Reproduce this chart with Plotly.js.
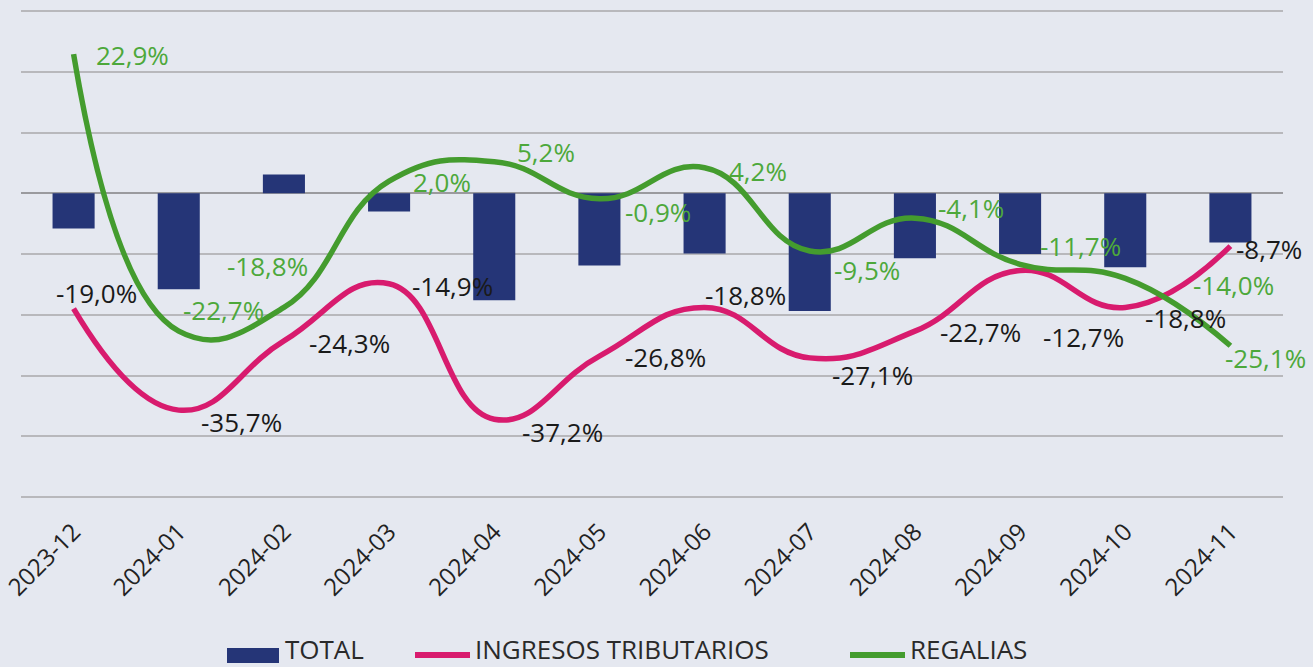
<!DOCTYPE html>
<html>
<head>
<meta charset="utf-8">
<script src="https://cdn.plot.ly/plotly-3.0.1.min.js"></script>
<style>
  html, body { margin: 0; padding: 0; background: #E5E8F0; overflow: hidden; }
  #chart { width: 1313px; height: 667px; }
</style>
</head>
<body>
<div id="chart"></div>
<script>
// ---- data ----
const categories = ["2023-12","2024-01","2024-02","2024-03","2024-04","2024-05","2024-06","2024-07","2024-08","2024-09","2024-10","2024-11"];
const total = [-5.8, -15.8, 3.1, -3.0, -17.6, -11.9, -9.9, -19.4, -10.7, -10.0, -12.2, -8.1];
const ingresosTributarios = [-19.0, -35.7, -24.3, -14.9, -37.2, -26.8, -18.8, -27.1, -22.7, -12.7, -18.8, -8.7];
const regalias = [22.9, -22.7, -18.8, 2.0, 5.2, -0.9, 4.2, -9.5, -4.1, -11.7, -14.0, -25.1];
const seriesNames = ["TOTAL", "INGRESOS TRIBUTARIOS", "REGALIAS"];
const yTicks = [-50, -40, -30, -20, -10, 0, 10, 20, 30];

// label offsets (pixels, label centre relative to the point)
const pinkDx = [23, 63, 66, 63, 68, 66, 41, 63, 66, 63, 60, 39];
const pinkDy = [16, -12, -2, -2, -13, -1, 12, -17, -1, -67, -11, -3];
const greenDx = [59, 45, -16, 53, 52, 59, 53, 57, 56, 60, 108, 35];
const greenDy = [-1, 21, 41, -1, 10, -13, -3, -19, 10, 18, -7, -12];

const fmt = v => v.toFixed(1).replace('.', ',') + '%';

const C_BAR = '#253577';
const C_PINK = '#D81B6E';
const C_GREEN = '#449C2E';
const C_GREEN_TXT = '#4DA83B';
const FONT = 'Open Sans, sans-serif';

// plot area geometry (pixels)
const W = 1313, H = 667;
const PL = 21, PR = 1283, PT = 4, PB = 504;
const PXPU = 6.075; // pixels per percentage point
const px2x = p => (p - PL) / (PR - PL);
const px2y = p => (PB - p) / (PB - PT);

const traces = [
  {
    type: 'bar', name: seriesNames[0], x: categories, y: total,
    marker: { color: C_BAR }, hoverinfo: 'skip'
  },
  {
    type: 'scatter', mode: 'lines', name: seriesNames[1], x: categories, y: ingresosTributarios,
    line: { color: C_PINK, width: 5.5, shape: 'spline', smoothing: 1.3 }, hoverinfo: 'skip'
  },
  {
    type: 'scatter', mode: 'lines', name: seriesNames[2], x: categories, y: regalias,
    line: { color: C_GREEN, width: 5.5, shape: 'spline', smoothing: 1.3 }, hoverinfo: 'skip'
  }
];

const annotations = [];
categories.forEach((c, i) => {
  annotations.push({
    x: c, y: ingresosTributarios[i], xref: 'x', yref: 'y', showarrow: false,
    text: fmt(ingresosTributarios[i]), xshift: pinkDx[i], yshift: pinkDy[i],
    font: { family: FONT, size: 26, color: '#1a1a1a' }
  });
  annotations.push({
    x: c, y: regalias[i], xref: 'x', yref: 'y', showarrow: false,
    text: fmt(regalias[i]), xshift: greenDx[i], yshift: greenDy[i],
    font: { family: FONT, size: 26, color: C_GREEN_TXT }
  });
});

// custom legend
const legendY = 655;
const legendItems = [
  { sx0: 227, sx1: 279, tx: 283, kind: 'rect', color: C_BAR, name: seriesNames[0] },
  { sx0: 415, sx1: 470, tx: 473, kind: 'line', color: C_PINK, name: seriesNames[1] },
  { sx0: 850, sx1: 905, tx: 908, kind: 'line', color: C_GREEN, name: seriesNames[2] }
];
const shapes = [];
legendItems.forEach(it => {
  if (it.kind === 'rect') {
    shapes.push({ type: 'rect', xref: 'paper', yref: 'paper',
      x0: px2x(it.sx0), x1: px2x(it.sx1), y0: px2y(legendY + 8), y1: px2y(legendY - 7),
      fillcolor: it.color, line: { width: 0 } });
  } else {
    shapes.push({ type: 'line', xref: 'paper', yref: 'paper',
      x0: px2x(it.sx0), x1: px2x(it.sx1), y0: px2y(legendY), y1: px2y(legendY),
      line: { color: it.color, width: 6 } });
  }
  annotations.push({
    xref: 'paper', yref: 'paper', x: px2x(it.tx), y: px2y(legendY - 6),
    xanchor: 'left', yanchor: 'middle', showarrow: false, text: it.name,
    font: { family: FONT, size: 26, color: '#2a2a2a' }
  });
});

const yTop = 30 + 7 / PXPU;
const yBot = -50 - 7 / PXPU;

const layout = {
  width: W, height: H,
  paper_bgcolor: '#E5E8F0', plot_bgcolor: '#E5E8F0',
  margin: { l: PL, r: W - PR, t: PT, b: H - PB, autoexpand: false },
  bargap: 0.6,
  showlegend: false,
  xaxis: {
    type: 'category', range: [-0.5, categories.length - 0.5], tickangle: -45,
    showgrid: false, zeroline: false, showline: false,
    ticks: '', ticklabelstandoff: 8, automargin: false,
    tickfont: { family: FONT, size: 24, color: '#222' }
  },
  yaxis: {
    range: [yBot, yTop], tickvals: yTicks, showticklabels: false, showgrid: true,
    gridcolor: '#B8B8BC', gridwidth: 2, zeroline: true, zerolinecolor: '#9A9A9E', zerolinewidth: 2,
    showline: false, ticks: '', automargin: false
  },
  shapes: shapes,
  annotations: annotations
};

Plotly.newPlot('chart', traces, layout, { displayModeBar: false, staticPlot: true });
</script>
</body>
</html>
